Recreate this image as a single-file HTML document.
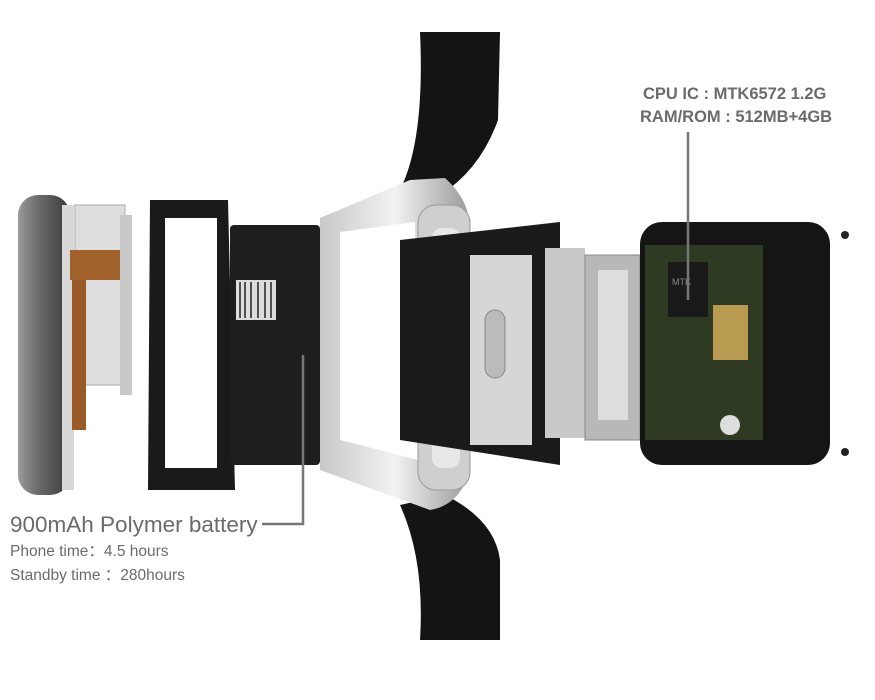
<!DOCTYPE html>
<html><head><meta charset="utf-8"><style>
html,body{margin:0;padding:0;background:#fff;}
svg{display:block}
text{font-family:"Liberation Sans",sans-serif;fill:#6b6b6b}
</style></head><body>
<svg width="875" height="700" viewBox="0 0 875 700" xmlns="http://www.w3.org/2000/svg">
<defs>
<linearGradient id="sil" x1="0" x2="1"><stop offset="0" stop-color="#c8c8c8"/><stop offset=".5" stop-color="#f2f2f2"/><stop offset="1" stop-color="#9a9a9a"/></linearGradient>
<linearGradient id="disp" x1="0" x2="1"><stop offset="0" stop-color="#9a9a9a"/><stop offset=".4" stop-color="#6a6a6a"/><stop offset="1" stop-color="#3a3a3a"/></linearGradient>
</defs>
<path d="M420 32 L500 32 L498 120 Q480 170 440 195 L400 190 Q425 140 420 32Z" fill="#141414"/>
<path d="M400 505 L445 495 Q495 520 500 560 L500 640 L420 640 Q425 560 400 505Z" fill="#141414"/>
<rect x="18" y="195" width="52" height="300" rx="20" fill="url(#disp)"/>
<rect x="62" y="205" width="12" height="285" fill="#d8d8d8"/>
<rect x="75" y="205" width="50" height="180" fill="#ddd" stroke="#aaa"/>
<rect x="70" y="250" width="60" height="30" fill="#a0622a"/>
<rect x="72" y="280" width="14" height="150" fill="#9a5a28"/>
<rect x="120" y="215" width="12" height="180" fill="#c8c8c8"/>
<path d="M150 200 L228 200 L235 490 L148 490 Z" fill="#1a1a1a"/>
<rect x="165" y="218" width="52" height="250" fill="#fff"/>
<rect x="230" y="225" width="90" height="240" rx="4" fill="#1e1e1e"/>
<rect x="236" y="280" width="40" height="40" fill="#ddd"/>
<g stroke="#222" stroke-width="1.5"><line x1="240" y1="282" x2="240" y2="318"/><line x1="245" y1="282" x2="245" y2="318"/><line x1="251" y1="282" x2="251" y2="318"/><line x1="258" y1="282" x2="258" y2="318"/><line x1="265" y1="282" x2="265" y2="318"/><line x1="271" y1="282" x2="271" y2="318"/></g>
<path d="M320 218 L410 180 L445 178 Q470 200 470 230 L470 470 Q460 505 430 510 L320 470 Z" fill="url(#sil)"/>
<path d="M340 232 L415 222 L418 460 L340 440 Z" fill="#fff"/>
<rect x="418" y="205" width="52" height="285" rx="18" fill="#cfcfcf" stroke="#999"/>
<rect x="432" y="228" width="28" height="240" rx="10" fill="#e8e8e8"/>
<path d="M400 240 L560 222 L560 465 L400 440 Z" fill="#1a1a1a"/>
<rect x="470" y="255" width="62" height="190" fill="#d6d6d6"/>
<rect x="485" y="310" width="20" height="68" rx="10" fill="#bbb" stroke="#888"/>
<rect x="545" y="248" width="40" height="190" fill="#c9c9c9"/>
<rect x="585" y="255" width="55" height="185" fill="#b8b8b8" stroke="#888"/>
<rect x="598" y="270" width="30" height="150" fill="#ddd"/>
<rect x="640" y="222" width="190" height="243" rx="22" fill="#151515"/>
<rect x="645" y="245" width="118" height="195" fill="#2e3a22"/>
<rect x="668" y="262" width="40" height="55" fill="#1a1a1a"/>
<text x="672" y="285" font-size="9" style="fill:#888">MTK</text>
<rect x="713" y="305" width="35" height="55" fill="#b89a50"/>
<circle cx="730" cy="425" r="10" fill="#ddd"/>
<circle cx="845" cy="235" r="4" fill="#222"/><circle cx="845" cy="452" r="4" fill="#222"/>
<text x="643" y="99" font-size="16.5" font-weight="bold">CPU IC : MTK6572  1.2G</text>
<text x="640" y="122" font-size="16.5" font-weight="bold">RAM/ROM : 512MB+4GB</text>
<line x1="688" y1="132" x2="688" y2="300" stroke="#777" stroke-width="2.5"/>
<text x="10" y="532" font-size="22.5">900mAh Polymer battery</text>
<polyline points="262,524 303,524 303,355" fill="none" stroke="#777" stroke-width="2.5"/>
<text x="10" y="556" font-size="15.5">Phone time：4.5 hours</text>
<text x="10" y="580" font-size="15.5">Standby time ：280hours</text>
</svg>
</body></html>
